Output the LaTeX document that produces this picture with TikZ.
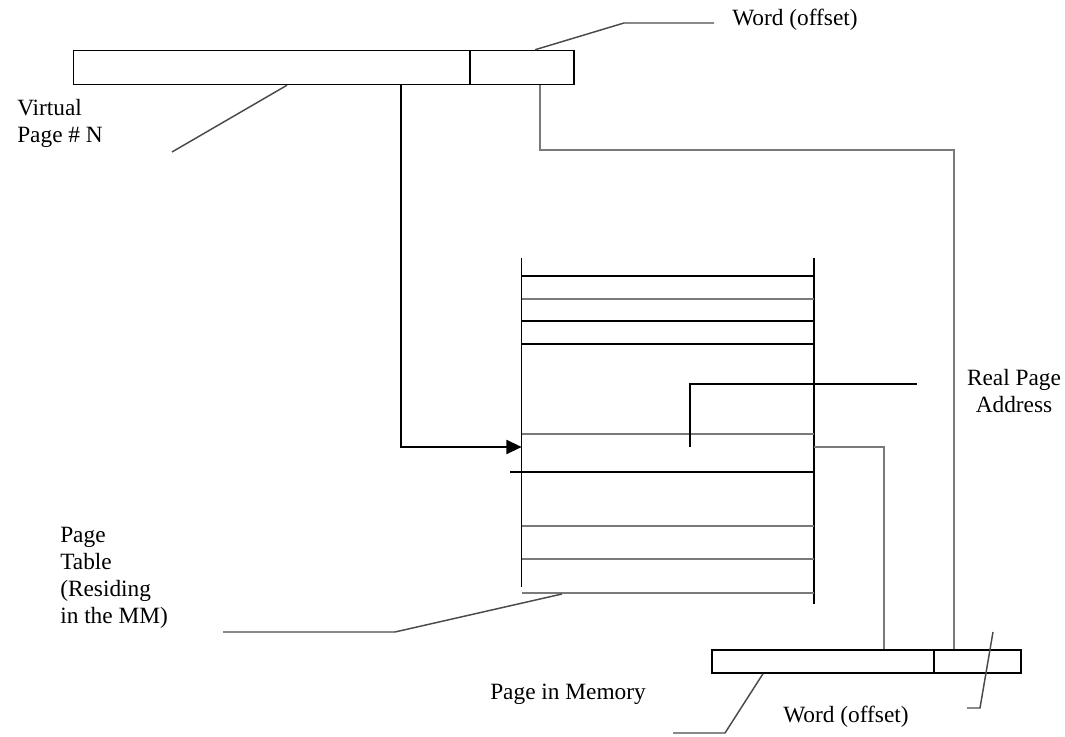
\documentclass[tikz,border=0pt]{standalone}
\usepackage{fontspec}
\setmainfont{Liberation Serif}
\usetikzlibrary{arrows.meta}
\definecolor{lgray}{HTML}{7A7A7A}
\definecolor{dgray}{HTML}{4A4A4A}
\begin{document}
\begin{tikzpicture}[x=0.75pt,y=-0.75pt,
  box/.style={draw=black, line width=1.1pt, inner sep=0pt, fill=white},
  blk/.style={draw=black, line width=1.1pt},
  gry/.style={draw=lgray, line width=1.7pt},
  lead/.style={draw=dgray, line width=1.1pt},
  lbl/.style={font=\fontsize{17.5}{20}\selectfont, inner sep=0pt, anchor=base west},
  clbl/.style={lbl, anchor=base},
  arr/.style={draw=black, line width=1.6pt, -{Triangle[length=11.5pt,width=10.5pt]}}]
\useasboundingbox (0,0) rectangle (1065,737);

% ---------- virtual address ----------
\node[box, minimum width=297.4pt, minimum height=25.5pt] (vpn) at (271.75,67.5) {};
\node[box, minimum width=78pt, minimum height=25.5pt] (voff) at (522,67.5) {};

% ---------- physical address ----------
\node[box, minimum width=166.5pt, minimum height=17.25pt] (pm) at (823,661.5) {};
\node[box, minimum width=65.25pt, minimum height=17.25pt] (poff) at (977.5,661.5) {};

% ---------- page table ----------
\coordinate (tTL) at (521.7,258);
\coordinate (tBL) at (521.7,587);
\coordinate (tTR) at (814,258);
\coordinate (tBR) at (814,604);
\draw[blk] (tTL) -- (tBL);
\draw[blk] (tTR) -- (tBR);
\foreach \yy in {276,321,344} \draw[blk] (521.7,\yy) -- (814,\yy);
\foreach \yy in {299,434,526,559} \draw[gry] (521.7,\yy) -- (814,\yy);
\draw[gry] (521.7,593) -- (814,593);
\draw[blk] (510,472) -- (814,472);

% ---------- labels ----------
\node[lbl] (virt1) at (17,116) {Virtual};
\node[lbl] (virt2) at (17,143) {Page \# N};
\node[lbl] (word1) at (732,26) {Word (offset)};
\node[clbl] (real1) at (1014,386) {Real Page};
\node[clbl] (real2) at (1014,413) {Address};
\node[lbl] (pt1) at (60,543) {Page};
\node[lbl] (pt2) at (60,570) {Table};
\node[lbl] (pt3) at (60,597) {(Residing};
\node[lbl] (pt4) at (60,624) {in the MM)};
\node[lbl] (pim) at (490,700) {Page in Memory};
\node[lbl] (word2) at (783,723) {Word (offset)};

% ---------- named points ----------
\coordinate (ax) at (401,0);
\coordinate (aend) at (521.7,447);
\coordinate (g1) at (540,150);
\coordinate (g2) at (954,150);
\coordinate (e1) at (814,447);
\coordinate (e2) at (884,447);
\coordinate (r1) at (690,447);
\coordinate (r2) at (917,384);

% ---------- connectors ----------
\draw[arr] (vpn.south -| ax) |- (aend);
\draw[gry] (voff.south -| g1) -- (g1) -- (g2) -- (poff.north -| g2);
\draw[gry] (e1) -- (e2) -- (pm.north -| e2);
\draw[blk] (r1) |- (r2);

% ---------- leader lines ----------
\coordinate (lv) at (287,0);
\draw[lead] (vpn.south -| lv) -- (172,152);
\coordinate (lw) at (535,0);
\draw[lead] (voff.north -| lw) -- (624,23) -- (714,23);
\draw[lead] (562,594) -- (395,632) -- (223,632);
\coordinate (lp) at (763,0);
\draw[lead] (pm.south -| lp) -- (725,733) -- (673,733);
\draw[lead] (993,632) -- (980,708) -- (967,708);
\end{tikzpicture}
\end{document}
